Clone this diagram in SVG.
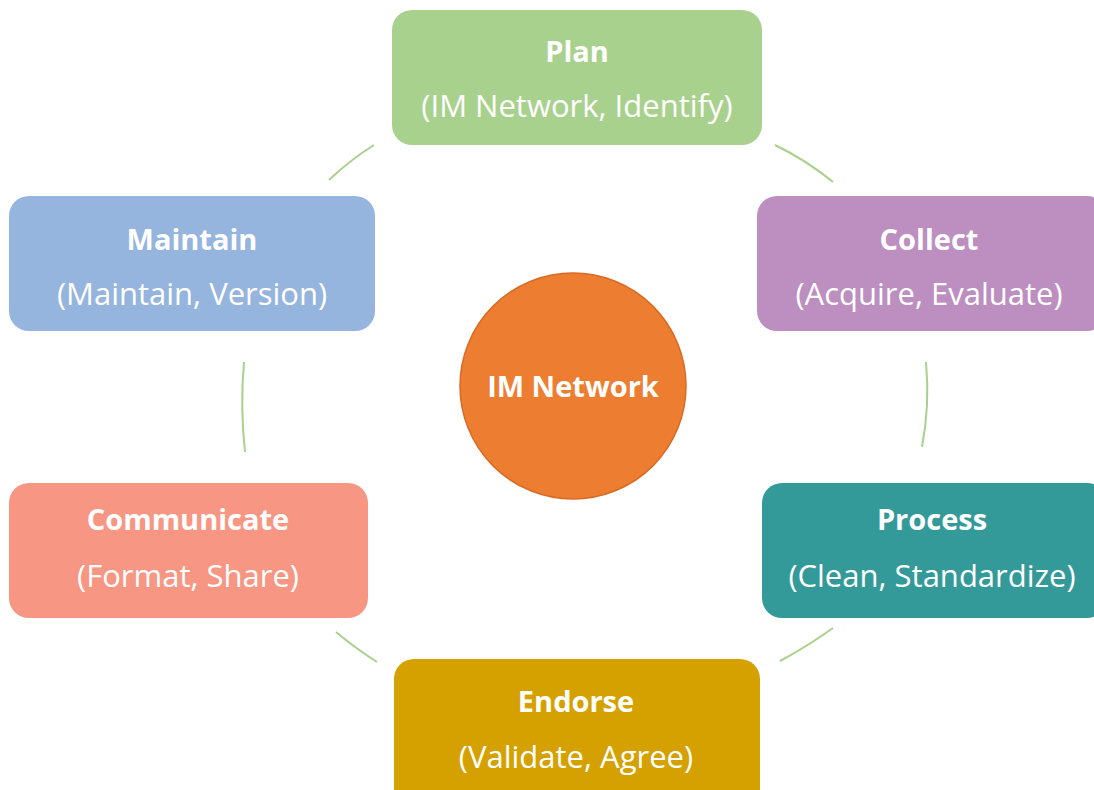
<svg xmlns="http://www.w3.org/2000/svg" width="1094" height="790" viewBox="0 0 1094 790">
<style>
.t{font-family:"Open Sans","Liberation Sans",sans-serif;font-weight:bold;font-size:29px;fill:#fff;text-anchor:middle}
.s{font-family:"Open Sans","Liberation Sans",sans-serif;font-size:31px;fill:#fff;text-anchor:middle}
.c{fill:none;stroke:#a9d18e;stroke-width:2}
</style>
<rect width="1094" height="790" fill="#fff"/>
<g id="connectors">
<path class="c" d="M374,145 Q350,160 329,180"/>
<path class="c" d="M775,145 Q806,160 833,182"/>
<path class="c" d="M926,362 Q930,405 922,447"/>
<path class="c" d="M244,362 Q240,407 245,452"/>
<path class="c" d="M336,632 Q355,648 377,662"/>
<path class="c" d="M833,628 Q808,646 780,661"/>
</g>
<g id="plan">
<rect x="392" y="10" width="370" height="135" rx="20" fill="#a9d18e"/>
<text class="t" x="577" y="62">Plan</text>
<text class="s" x="577" y="117">(IM Network, Identify)</text>
</g>
<g id="collect">
<rect x="757" y="196" width="350" height="135" rx="20" fill="#bc8fc0"/>
<text class="t" x="929" y="250">Collect</text>
<text class="s" x="929" y="305">(Acquire, Evaluate)</text>
</g>
<g id="maintain">
<rect x="9" y="196" width="366" height="135" rx="20" fill="#95b4de"/>
<text class="t" x="192" y="250">Maintain</text>
<text class="s" x="192" y="305">(Maintain, Version)</text>
</g>
<g id="im-network">
<circle cx="573" cy="386" r="113" fill="#ed7d31" stroke="#d96a22" stroke-width="1.5"/>
<text class="t" x="573" y="397">IM Network</text>
</g>
<g id="communicate">
<rect x="9" y="483" width="359" height="135" rx="20" fill="#f79683"/>
<text class="t" x="188" y="530">Communicate</text>
<text class="s" x="188" y="587">(Format, Share)</text>
</g>
<g id="process">
<rect x="762" y="483" width="345" height="135" rx="20" fill="#349a99"/>
<text class="t" x="932" y="530">Process</text>
<text class="s" x="932" y="587">(Clean, Standardize)</text>
</g>
<g id="endorse">
<rect x="394" y="659" width="366" height="150" rx="20" fill="#d5a100"/>
<text class="t" x="576" y="712">Endorse</text>
<text class="s" x="576" y="768">(Validate, Agree)</text>
</g>
</svg>
